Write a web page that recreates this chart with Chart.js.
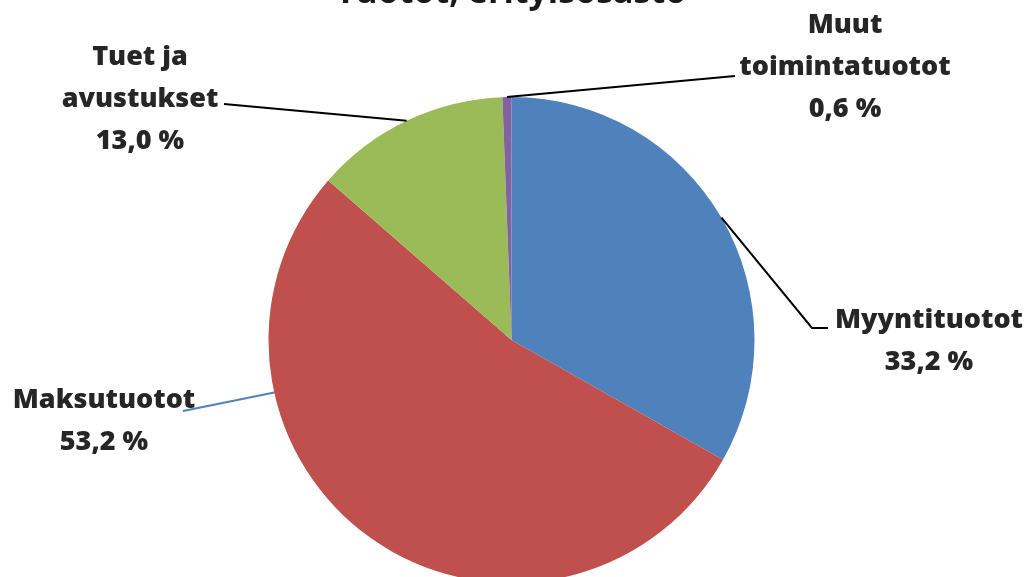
<!DOCTYPE html>
<html>
<head>
<meta charset="utf-8">
<script src="https://cdn.jsdelivr.net/npm/chart.js@4/dist/chart.umd.min.js"></script>
<style>
  html, body { margin: 0; padding: 0; background: #fff; overflow: hidden; }
  #wrap { position: relative; width: 1033px; height: 640px; }
</style>
</head>
<body>
<div id="wrap"><canvas id="pieChart"></canvas></div>
<script>
// Tuotot, jakauma prosentteina

var categories = ['Myyntituotot', 'Maksutuotot', 'Tuet ja avustukset', 'Muut toimintatuotot'];
var shares = [33.2, 53.2, 13.0, 0.6];
var labelLines = [['Myyntituotot'], ['Maksutuotot'], ['Tuet ja', 'avustukset'], ['Muut', 'toimintatuotot']];
var sliceColors = ['#4F81BD', '#C0504D', '#9BBB59', '#8064A2'];
var chartTitle = 'Tuotot, erityisosasto';

// label placement: text centre, first line y, leader points (anchor angle in degrees clockwise from top)
var labelLayout = [
  { x: 929, y: 320, angle: null, bend: [812, 328], end: [828, 328], color: '#000' },
  { x: 104, y: 400, angle: 257.5, bend: null, end: [183, 411], color: '#4F81BD' },
  { x: 140, y: 57, angle: null, bend: null, end: [224, 104], color: '#000' },
  { x: 845, y: 25, angle: null, bend: null, end: [735, 76], color: '#000' }
];

function formatShare(v) {
  return v.toFixed(1).replace('.', ',') + ' %';
}

var leaderLabels = {
  id: 'leaderLabels',
  afterDraw: function (chart) {
    var ctx = chart.ctx;
    var meta = chart.getDatasetMeta(0);
    ctx.save();

    // title, mostly cropped by the top edge like the original
    ctx.font = 'bold 34px "Open Sans"';
    ctx.fillStyle = '#1a1a1a';
    ctx.textAlign = 'center';
    ctx.textBaseline = 'alphabetic';
    ctx.fillText(chartTitle, 511, 3);

    for (var i = 0; i < meta.data.length; i++) {
      var arc = meta.data[i];
      var lay = labelLayout[i];
      var a;
      if (lay.angle == null) {
        a = (arc.startAngle + arc.endAngle) / 2;
      } else {
        a = (lay.angle - 90) * Math.PI / 180;
      }
      var ax = arc.x + arc.outerRadius * Math.cos(a);
      var ay = arc.y + arc.outerRadius * Math.sin(a);

      ctx.strokeStyle = lay.color;
      ctx.lineWidth = 2;
      ctx.beginPath();
      ctx.moveTo(ax, ay);
      if (lay.bend) ctx.lineTo(lay.bend[0], lay.bend[1]);
      ctx.lineTo(lay.end[0], lay.end[1]);
      ctx.stroke();

      var lines = labelLines[i].concat([formatShare(shares[i])]);
      ctx.font = '800 27px "Open Sans"';
      ctx.fillStyle = '#262626';
      ctx.textAlign = 'center';
      ctx.textBaseline = 'middle';
      for (var j = 0; j < lines.length; j++) {
        ctx.fillText(lines[j], lay.x, lay.y + j * 42);
      }
    }
    ctx.restore();
  }
};

var ctx = document.getElementById('pieChart').getContext('2d');
new Chart(ctx, {
  type: 'pie',
  data: {
    labels: categories,
    datasets: [{
      data: shares,
      backgroundColor: sliceColors,
      borderColor: '#ffffff',
      borderWidth: 0
    }]
  },
  options: {
    responsive: true,
    maintainAspectRatio: false,
    animation: false,
    layout: { padding: { top: 97, bottom: 57, left: 268, right: 278 } },
    plugins: {
      legend: { display: false },
      tooltip: { enabled: false },
      title: { display: false }
    }
  },
  plugins: [leaderLabels]
});
</script>
</body>
</html>
